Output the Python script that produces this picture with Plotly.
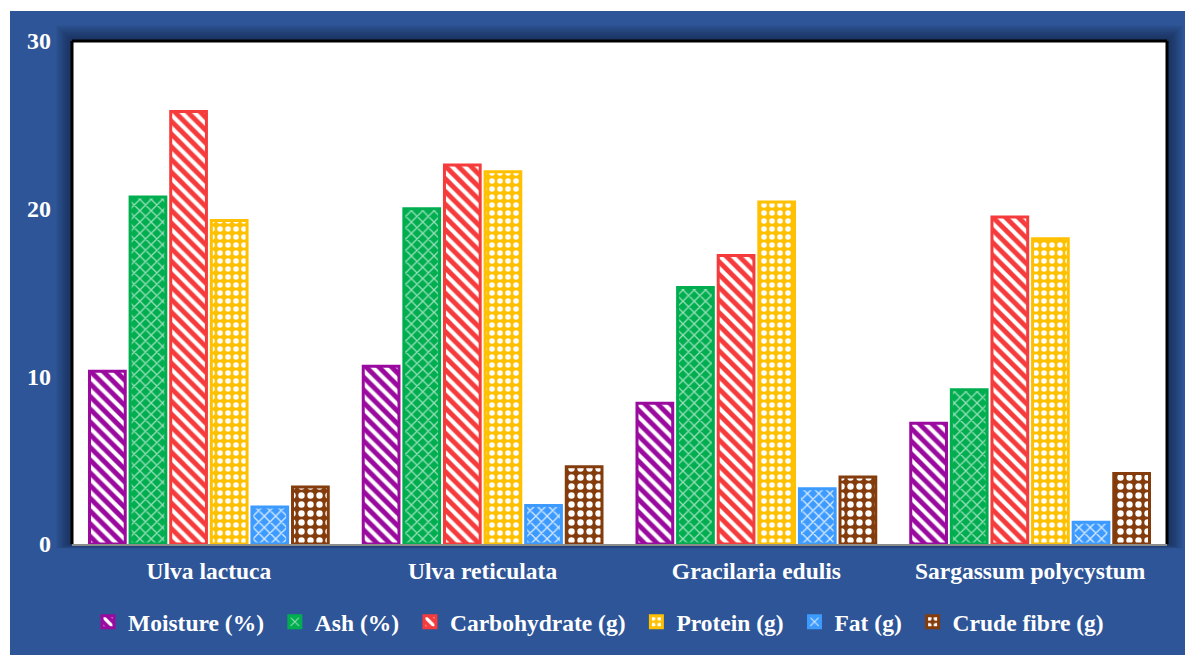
import plotly.graph_objects as go

# Seaweed species and measured composition values
species = ["Ulva lactuca", "Ulva reticulata", "Gracilaria edulis", "Sargassum polycystum"]
moisture = [10.3, 10.6, 8.4, 7.2]
ash = [20.7, 20.0, 15.3, 9.2]
carbohydrate = [25.8, 22.6, 17.2, 19.5]
protein = [19.3, 22.2, 20.4, 18.2]
fat = [2.2, 2.3, 3.3, 1.3]
crude_fibre = [3.4, 4.6, 4.0, 4.2]

series_names = ["Moisture (%)", "Ash (%)", "Carbohydrate (g)", "Protein (g)", "Fat (g)", "Crude fibre (g)"]
series_values = [moisture, ash, carbohydrate, protein, fat, crude_fibre]
y_ticks = [0, 10, 20, 30]

# Fill colours and hatch styles for each series
styles = [
    dict(color="#9A0A9E", shape="\\", size=9, solidity=0.45, fgopacity=1.0),
    dict(color="#00AE50", shape="x", size=8, solidity=0.3, fgopacity=0.6),
    dict(color="#F53B3B", shape="\\", size=9, solidity=0.45, fgopacity=1.0),
    dict(color="#FFC000", shape=".", size=8, solidity=0.38, fgopacity=1.0),
    dict(color="#3D9BFF", shape="x", size=8, solidity=0.3, fgopacity=0.8),
    dict(color="#843C0C", shape=".", size=9, solidity=0.4, fgopacity=1.0),
]

W, H = 1185, 655
L, R, T, B = 72, 18, 41, 110
PW, PH = W - L - R, H - T - B


def px_x(px):
    return (px - L) / PW


def px_y(py):
    return (H - B - py) / PH


# Extra spacing after each legend label
PAD = "\u00a0"

fig = go.Figure()
for name, vals, st in zip(series_names, series_values, styles):
    fig.add_trace(go.Bar(
        name=name + PAD,
        x=species,
        y=vals,
        marker=dict(
            color=st["color"],
            line=dict(color=st["color"], width=3),
            pattern=dict(
                shape=st["shape"],
                bgcolor=st["color"],
                fgcolor="white",
                fgopacity=st["fgopacity"],
                size=st["size"],
                solidity=st["solidity"],
                fillmode="replace",
            ),
        ),
    ))

shapes = []
# Blue frame behind the chart
shapes.append(dict(type="rect", xref="paper", yref="paper", layer="below",
                   x0=px_x(10), x1=px_x(1190), y0=px_y(660), y1=px_y(11),
                   fillcolor="#2E5597", line=dict(width=0)))
# Soft dark glow around the plotting area
for i in range(7, 0, -1):
    d = i * 2.2
    shapes.append(dict(type="rect", xref="paper", yref="paper", layer="below",
                       x0=px_x(L - d), x1=px_x(W - R + d),
                       y0=px_y(H - B + d * 0.3), y1=px_y(T - d),
                       fillcolor="rgba(10,20,45,0.09)", line=dict(width=0)))
# White plotting area on top of the glow
shapes.append(dict(type="rect", xref="paper", yref="paper", layer="below",
                   x0=0, x1=1, y0=0, y1=1,
                   fillcolor="white", line=dict(width=0)))
# Black border on top, left and right of the plotting area
for x0, y0, x1, y1 in [(0, 1, 1, 1), (0, 0, 0, 1), (1, 0, 1, 1)]:
    shapes.append(dict(type="line", xref="paper", yref="paper", layer="above",
                       x0=x0, y0=y0, x1=x1, y1=y1,
                       line=dict(color="black", width=3)))

FAMILY = "Liberation Serif, Times New Roman, serif"
legend_font = dict(family=FAMILY, color="white", size=23.5, weight="bold")
cat_font = dict(family=FAMILY, color="white", size=23.5, weight="bold")
tick_font = dict(family=FAMILY, color="white", size=24, weight="bold")

fig.update_layout(
    width=W, height=H,
    margin=dict(l=L, r=R, t=T, b=B, pad=0),
    paper_bgcolor="white",
    plot_bgcolor="white",
    barmode="group",
    bargap=0.11,
    bargroupgap=0.12,
    shapes=shapes,
    font=legend_font,
    showlegend=True,
    legend=dict(
        orientation="h",
        x=px_x(88), xanchor="left",
        y=px_y(622), yanchor="middle",
        font=legend_font,
        itemwidth=30,
        bgcolor="rgba(0,0,0,0)",
        traceorder="normal",
    ),
    xaxis=dict(
        showgrid=False,
        showline=True, linecolor="#8C8C8C", linewidth=2,
        ticks="", tickfont=cat_font,
        ticklabelstandoff=5,
        fixedrange=True,
    ),
    yaxis=dict(
        range=[0, 30],
        tickvals=y_ticks,
        showgrid=False,
        zeroline=False,
        showline=False,
        ticks="", tickfont=tick_font,
        ticklabelstandoff=20,
        fixedrange=True,
    ),
)

fig.write_html("out.html")
